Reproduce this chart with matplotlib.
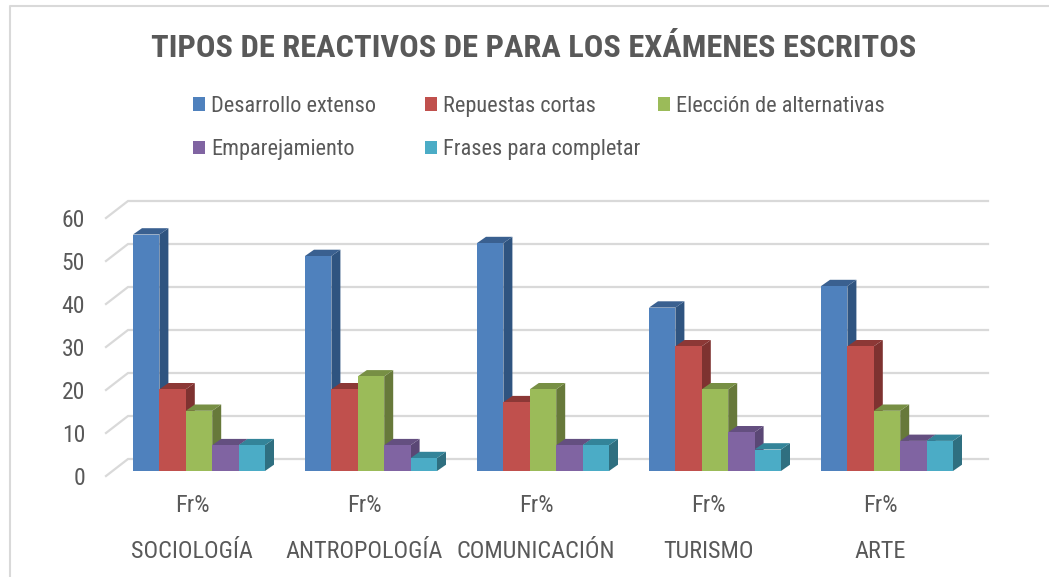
import matplotlib
matplotlib.use("Agg")
import matplotlib.pyplot as plt
from matplotlib.patches import Polygon, Patch
from matplotlib.lines import Line2D

plt.rcParams["font.family"] = ["Roboto Condensed", "Liberation Sans"]

title = "TIPOS DE REACTIVOS DE PARA LOS EXÁMENES ESCRITOS"
categories = ["SOCIOLOGÍA", "ANTROPOLOGÍA", "COMUNICACIÓN", "TURISMO", "ARTE"]
sublabel = "Fr%"
series_names = ["Desarrollo extenso", "Repuestas cortas", "Elección de alternativas",
                "Emparejamiento", "Frases para completar"]
desarrollo = [55, 50, 53, 38, 43]
repuestas = [19, 19, 16, 29, 29]
eleccion = [14, 22, 19, 19, 14]
emparejamiento = [6, 6, 6, 9, 7]
frases = [6, 3, 6, 5, 7]
yticks = [0, 10, 20, 30, 40, 50, 60]

series = [desarrollo, repuestas, eleccion, emparejamiento, frases]
front = ["#4F81BD", "#C0504D", "#9BBB59", "#8064A2", "#4BACC6"]
side = ["#2F5480", "#7E3230", "#67793A", "#5A4775", "#2F6F80"]
top = ["#3A6090", "#8C3836", "#778F44", "#644F80", "#338499"]
TXT = "#595959"
GRID = "#D9D9D9"

W, H = 1049, 577
fig = plt.figure(figsize=(W / 100, H / 100), dpi=100, facecolor="white")

# axes: floor front edge from x=106..966, value 0 at y=476, 60 at y=218
ax = fig.add_axes([106 / W, 1 - 476 / H, 860 / W, 258 / H])
ax.set_xlim(-0.5, 4.5)
ax.set_ylim(0, 60)
ax.patch.set_visible(False)
for s in ax.spines.values():
    s.set_visible(False)

PXX = 172.0   # px per category
PXY = 4.3     # px per value
ux = lambda p: p / PXX
uy = lambda p: p / PXY

# wall depth
wx, wy = ux(22), uy(17)
for v in yticks:
    ax.plot([-0.5, -0.5 + wx, 4.5 + wx], [v, v + wy, v + wy], color=GRID, lw=1.6,
            clip_on=False, zorder=1, solid_joinstyle="miter")

# bars
bw = ux(26.4)
shift_x, shift_y = ux(7), uy(5)
dx, dy = ux(9), uy(6.3)
for i in range(len(categories)):
    x0 = i + shift_x - 2.5 * bw
    for j, vals in enumerate(series):
        l, r = x0 + j * bw, x0 + (j + 1) * bw
        b, t = shift_y, shift_y + vals[i]
        z = 3 + j * 0.01
        ax.add_patch(Polygon([(r, b), (r + dx, b + dy), (r + dx, t + dy), (r, t)],
                             fc=side[j], ec="none", clip_on=False, zorder=z))
        ax.add_patch(Polygon([(l, t), (l + dx, t + dy), (r + dx, t + dy), (r, t)],
                             fc=top[j], ec="none", clip_on=False, zorder=z))
        ax.add_patch(Polygon([(l, b), (r, b), (r, t), (l, t)],
                             fc=front[j], ec="none", clip_on=False, zorder=z + 0.005))

# ticks
ax.set_yticks(yticks)
ax.set_yticklabels([str(v) for v in yticks], fontsize=17, color=TXT)
ax.tick_params(axis="y", length=0, pad=15)
ax.set_xticks(range(len(categories)))
ax.set_xticklabels([sublabel] * len(categories), fontsize=17.5, color=TXT)
ax.tick_params(axis="x", length=0, pad=13)
sec = ax.secondary_xaxis("bottom")
sec.set_xticks(range(len(categories)))
sec.set_xticklabels(categories, fontsize=17.5, color=TXT)
sec.tick_params(axis="x", length=0, pad=46)
sec.spines["bottom"].set_visible(False)

# title
fig.text(534 / W, 1 - 48 / H, title, ha="center", va="center", fontsize=23.3,
         fontweight="bold", color=TXT)

# legend columns
columns = [(193, [0, 3]), (425, [1, 4]), (658, [2])]
for xpx, idx in columns:
    hs = [Patch(fc=front[k], ec="none", label=series_names[k]) for k in idx]
    fig.legend(handles=hs, loc="upper left", bbox_to_anchor=(xpx / W, 1 - 96 / H),
               frameon=False, fontsize=16, labelcolor=TXT, borderpad=0, borderaxespad=0,
               handlelength=0.55, handleheight=0.55, handletextpad=0.27, labelspacing=1.0)

# chart frame
fig.add_artist(Line2D([10 / W, 10 / W, 1049 / W], [0, 1 - 6 / H, 1 - 6 / H],
                      color=GRID, lw=1.5, transform=fig.transFigure))

fig.savefig("out.png", dpi=100, facecolor="white")
